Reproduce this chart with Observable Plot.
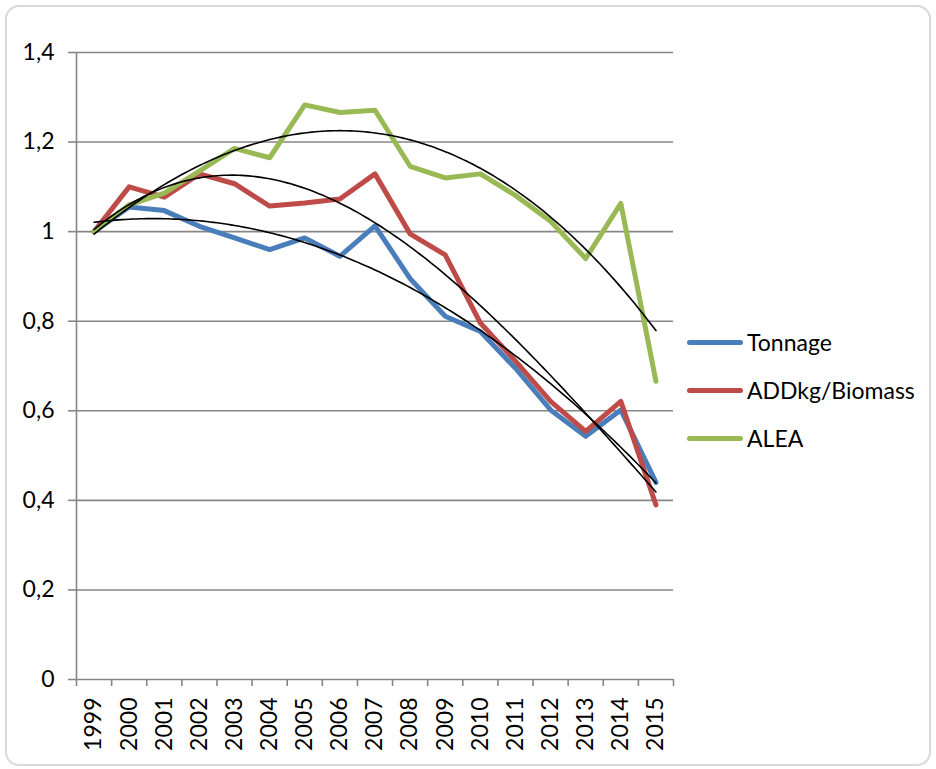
<!DOCTYPE html>
<html>
<head>
<meta charset="utf-8">
<script src="https://cdn.jsdelivr.net/npm/d3@7"></script>
<script src="https://cdn.jsdelivr.net/npm/@observablehq/plot@0.6"></script>
<style>
  body { margin: 0; background: #fff; font-family: Lato, "Open Sans", sans-serif; }
  #wrap { position: relative; width: 936px; height: 769px; }
  #frame { position: absolute; left: 5px; top: 5px; width: 922px; height: 757px;
           border: 2px solid #d9d9d9; border-radius: 14px; pointer-events: none; }
  .leg { position: absolute; left: 687px; height: 30px; display: flex; align-items: center;
         font-family: Lato, sans-serif; font-size: 23px; color: #000; }
  .sw { width: 56px; height: 5px; border-radius: 3px; margin-right: 4px; }
</style>
</head>
<body>
<div id="wrap"><div id="chart"></div><div id="frame"></div><div id="legend"></div></div>
<script>
const years = [1999,2000,2001,2002,2003,2004,2005,2006,2007,2008,2009,2010,2011,2012,2013,2014,2015];
const seriesNames = ["Tonnage", "ADDkg/Biomass", "ALEA"];
const seriesColors = ["#4a7ebb", "#be4b48", "#98b954"];
const tonnage = [1.0,1.055,1.047,1.012,0.986,0.960,0.986,0.945,1.013,0.895,0.811,0.777,0.695,0.602,0.543,0.602,0.440];
const addkg   = [1.0,1.100,1.077,1.129,1.107,1.057,1.064,1.073,1.129,0.995,0.948,0.796,0.711,0.621,0.554,0.621,0.390];
const alea    = [1.0,1.060,1.086,1.135,1.186,1.165,1.283,1.266,1.271,1.146,1.120,1.129,1.081,1.023,0.940,1.063,0.666];
const trendOrder = [2, 3, 3];
const yTicks = [0,0.2,0.4,0.6,0.8,1.0,1.2,1.4];

const values = [tonnage, addkg, alea];
const rows = [];
values.forEach((vals, s) => vals.forEach((v, i) => rows.push({series: seriesNames[s], year: years[i], value: v})));

// least-squares polynomial fit (like an Excel polynomial trendline)
function polyfit(xs, ys, order) {
  const n = order + 1;
  const A = Array.from({length: n}, () => new Array(n + 1).fill(0));
  for (let k = 0; k < xs.length; k++) {
    for (let r = 0; r < n; r++) {
      for (let c = 0; c < n; c++) A[r][c] += Math.pow(xs[k], r + c);
      A[r][n] += ys[k] * Math.pow(xs[k], r);
    }
  }
  for (let i = 0; i < n; i++) {
    let p = i;
    for (let r = i + 1; r < n; r++) if (Math.abs(A[r][i]) > Math.abs(A[p][i])) p = r;
    [A[i], A[p]] = [A[p], A[i]];
    for (let r = 0; r < n; r++) {
      if (r === i) continue;
      const f = A[r][i] / A[i][i];
      for (let c = i; c <= n; c++) A[r][c] -= f * A[i][c];
    }
  }
  return A.map((row, i) => row[n] / row[i]);
}
const trendRows = [];
values.forEach((vals, s) => {
  const ts = years.map(y => y - years[0]);
  const coef = polyfit(ts, vals, trendOrder[s]);
  const steps = 160;
  for (let k = 0; k <= steps; k++) {
    const t = (years.length - 1) * k / steps;
    const v = coef.reduce((acc, c, i) => acc + c * Math.pow(t, i), 0);
    trendRows.push({series: seriesNames[s], year: years[0] + t, value: v});
  }
});

const boundaries = years.map(y => y - 0.5).concat([years[years.length - 1] + 0.5]);
const fmt = d => String(Math.round(d * 10) / 10).replace(".", ",");

const chart = Plot.plot({
  width: 936,
  height: 769,
  marginLeft: 76,
  marginRight: 263,
  marginTop: 52,
  marginBottom: 90,
  style: {fontFamily: "Lato, sans-serif", background: "transparent"},
  x: {type: "linear", domain: [boundaries[0], boundaries[boundaries.length - 1]], axis: null},
  y: {domain: [0, 1.4], axis: null},
  color: {domain: seriesNames, range: seriesColors},
  marks: [
    Plot.gridY(yTicks, {stroke: "#868686", strokeOpacity: 1, strokeWidth: 1.6}),
    Plot.axisY(yTicks, {label: null, tickSize: 8, tickPadding: 14, tickFormat: fmt, fontSize: 23, stroke: "#868686", strokeWidth: 1.6, fill: "#000"}),
    Plot.ruleX([boundaries[0]], {stroke: "#868686", strokeWidth: 1.6}),
    Plot.axisX(boundaries, {label: null, tickSize: 7, tickFormat: () => "", stroke: "#868686", strokeWidth: 1.6}),
    Plot.axisX(years, {label: null, tickSize: 0, tickPadding: 18, tickRotate: -90, tickFormat: d => String(d), fontSize: 23, fill: "#000"}),
    Plot.line(rows, {x: "year", y: "value", z: "series", stroke: "series", strokeWidth: 5, strokeLinejoin: "round", strokeLinecap: "round"}),
    Plot.line(trendRows, {x: "year", y: "value", z: "series", stroke: "#000", strokeWidth: 1.6})
  ]
});
document.getElementById("chart").appendChild(chart);

const legend = document.getElementById("legend");
const legendTop = [327, 375, 423];
seriesNames.forEach((name, i) => {
  const d = document.createElement("div");
  d.className = "leg";
  d.style.top = legendTop[i] + "px";
  const sw = document.createElement("div");
  sw.className = "sw";
  sw.style.background = seriesColors[i];
  d.appendChild(sw);
  const t = document.createElement("span");
  t.textContent = name;
  d.appendChild(t);
  legend.appendChild(d);
});
</script>
</body>
</html>
